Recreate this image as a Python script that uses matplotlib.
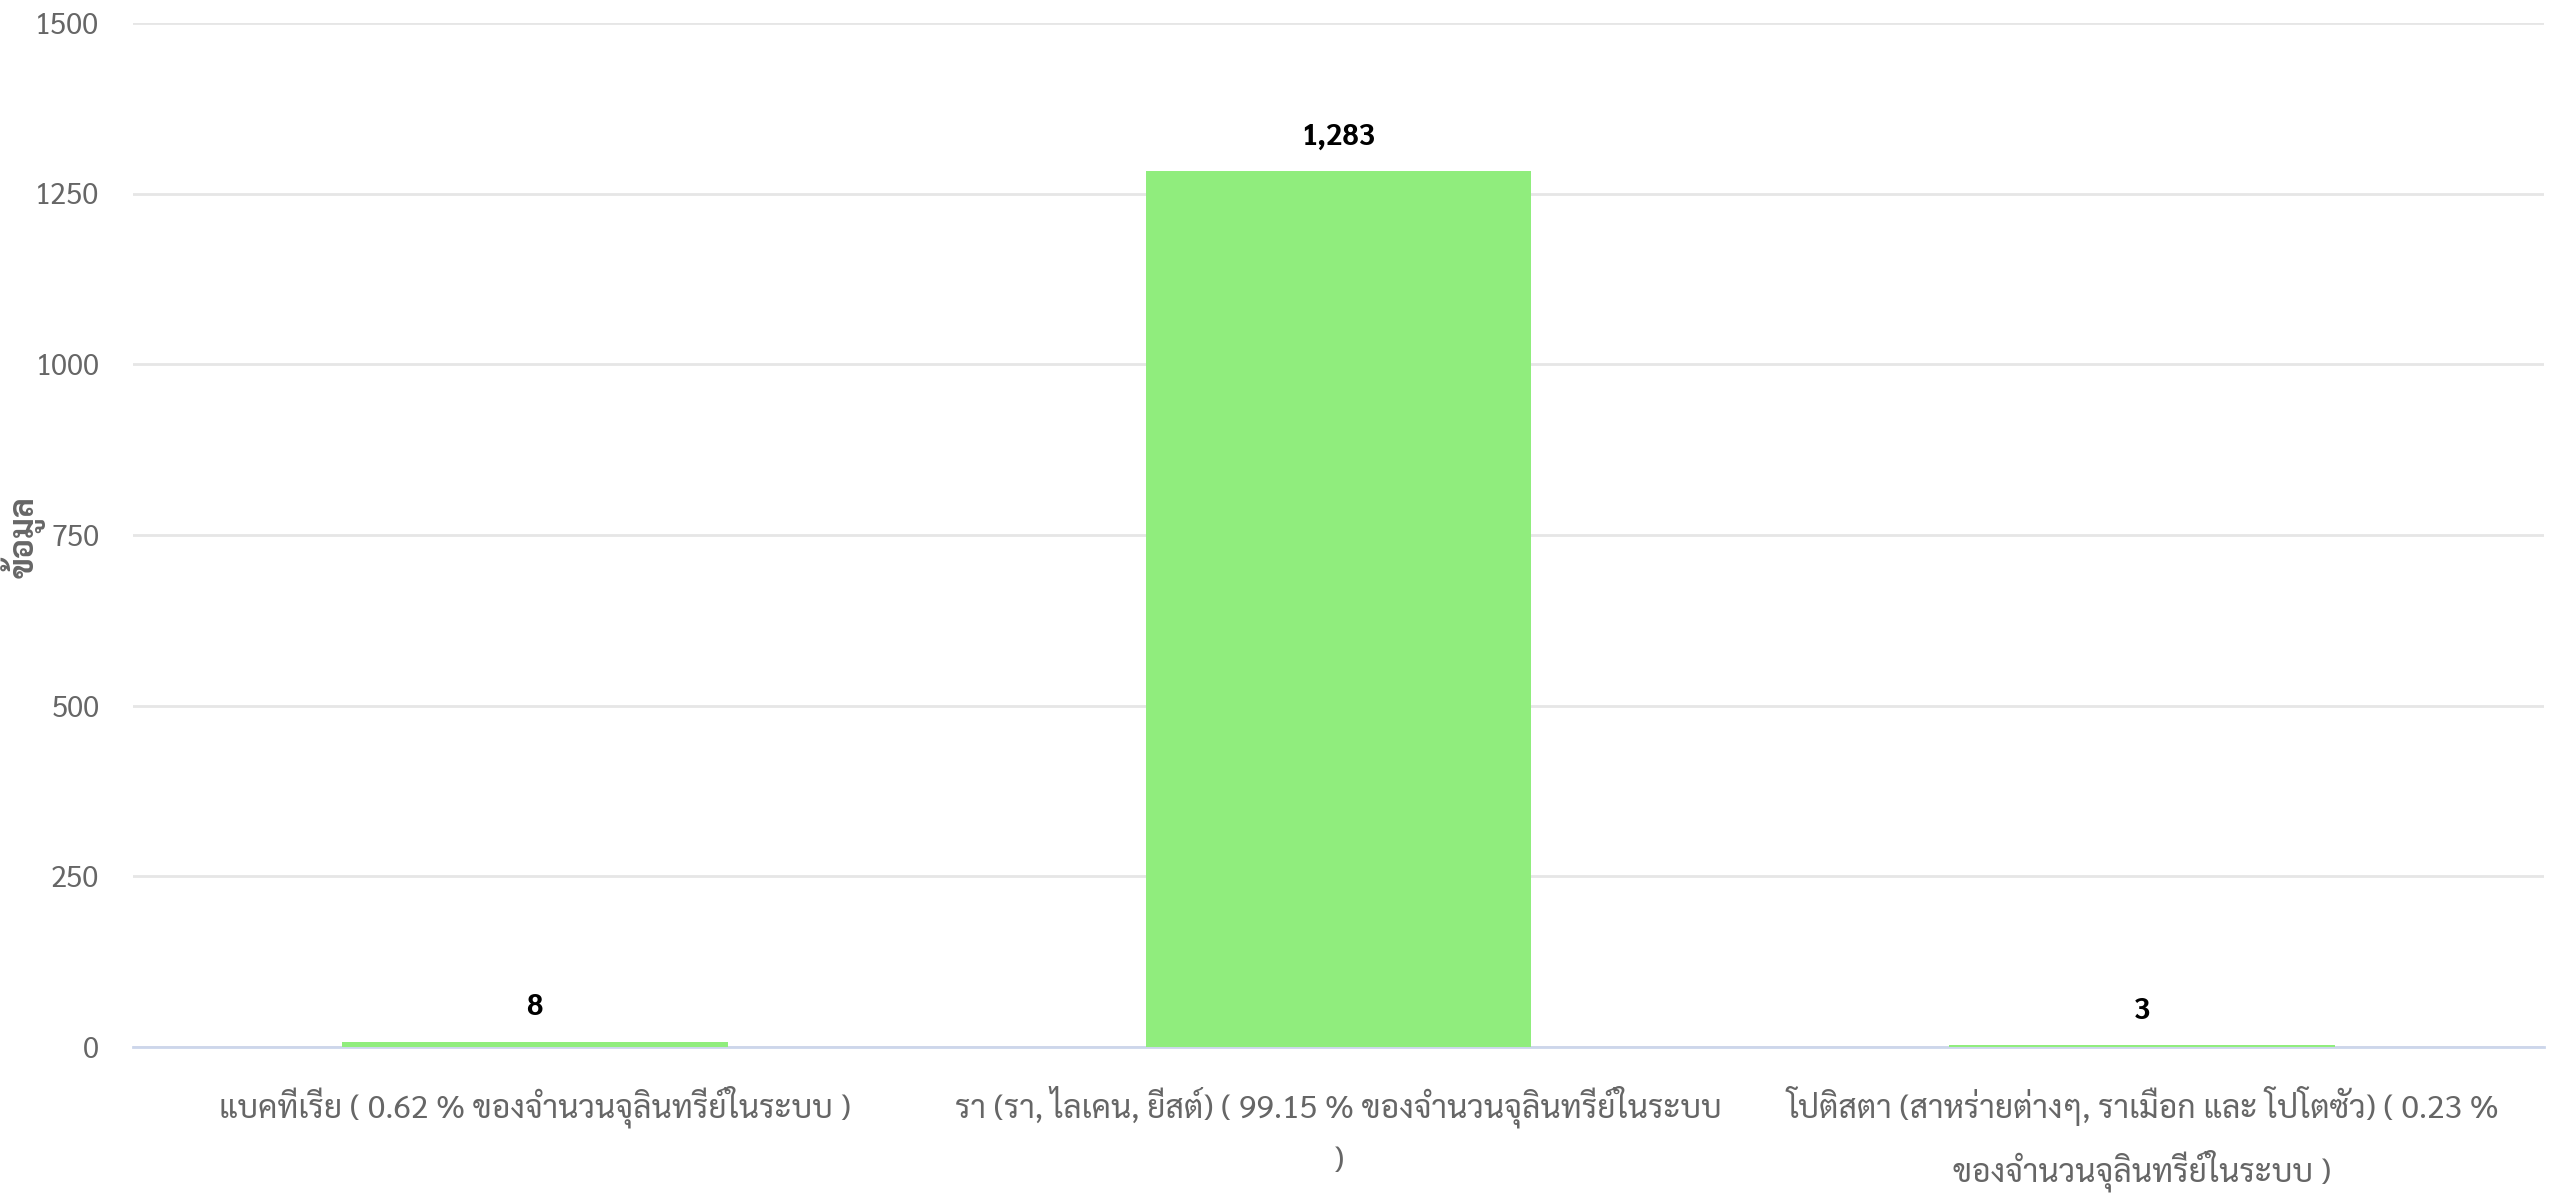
import matplotlib
matplotlib.use('Agg')
import matplotlib.pyplot as plt

plt.rcParams['font.family'] = ['Sarabun', 'DejaVu Sans']

categories = [
    'แบคทีเรีย ( 0.62 % ของจำนวนจุลินทรีย์ในระบบ )',
    'รา (รา, ไลเคน, ยีสต์) ( 99.15 % ของจำนวนจุลินทรีย์ในระบบ\n)',
    'โปติสตา (สาหร่ายต่างๆ, ราเมือก และ โปโตซัว) ( 0.23 %\nของจำนวนจุลินทรีย์ในระบบ )',
]
values = [8, 1283, 3]
yticks = [0, 250, 500, 750, 1000, 1250, 1500]

fig = plt.figure(figsize=(25.52, 12), dpi=100)
ax = fig.add_axes([0.052, 0.1275, 0.945, 0.8535])

x = range(len(values))
ax.bar(x, values, width=0.48, color='#90ed7d', zorder=3)
for i, v in enumerate(values):
    ax.annotate(f'{v:,}', (i, v), xytext=(0, 14), textcoords='offset points',
                ha='center', va='bottom', fontsize=21, fontweight='bold', color='black')

ax.set_xlim(-0.5, 2.5)
ax.set_ylim(0, 1500)
ax.set_yticks(yticks)
ax.set_xticks(list(x))
ax.set_xticklabels(categories, fontsize=23, color='#666666', linespacing=1.75)
ax.tick_params(axis='y', length=0, pad=24, labelsize=21, labelcolor='#666666')
ax.tick_params(axis='x', length=0, pad=28)
ax.grid(axis='y', color='#e6e6e6', linewidth=2, zorder=0)
for s in ['top', 'right', 'left']:
    ax.spines[s].set_visible(False)
ax.spines['bottom'].set_color('#ccd6eb')
ax.spines['bottom'].set_linewidth(2)

fig.text(0.009, 0.5525, 'ข้อมูล', rotation=90, ha='center', va='center',
         fontsize=24, fontweight='bold', color='#666666')

fig.savefig('out.png', dpi=100)
